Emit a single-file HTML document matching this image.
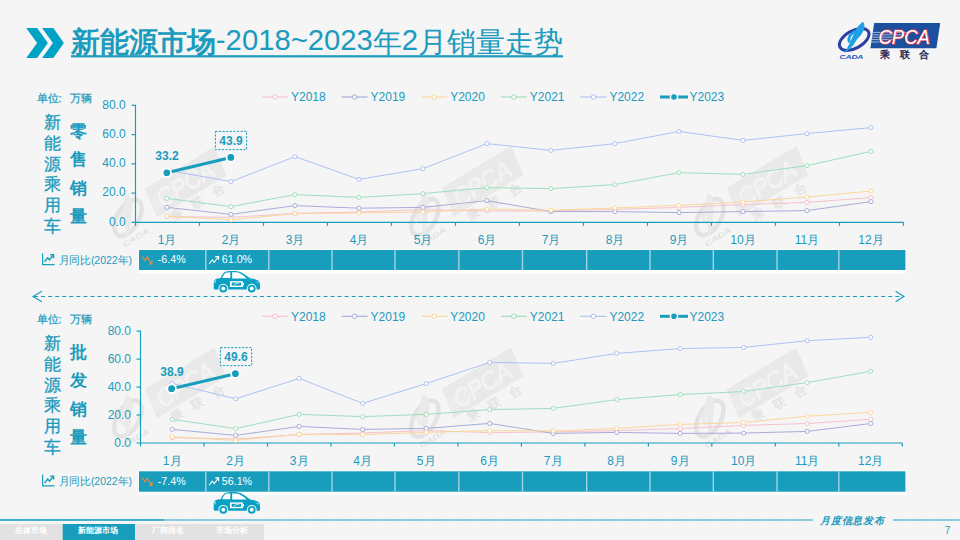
<!DOCTYPE html>
<html lang="zh"><head><meta charset="utf-8"><title>新能源市场</title>
<style>
html,body{margin:0;padding:0;}
body{width:960px;height:540px;overflow:hidden;background:#f5f5f5;font-family:"Liberation Sans",sans-serif;}
#bg{position:absolute;left:0;top:0;width:960px;height:540px;background:#f5f5f5;}
svg{position:absolute;left:0;top:0;}
text{font-family:"Liberation Sans",sans-serif;fill:#1b9bbd;}
.t12{font-size:12px;}
.t11{font-size:11px;stroke:#1b9bbd;stroke-width:0.25px;}
.t107{font-size:10.7px;}
.b12{font-size:12px;font-weight:bold;}
.w11{font-size:10.7px;fill:#fff;}
.v17{font-size:17.3px;stroke:#1b9bbd;stroke-width:0.3px;}
.vb17{font-size:17.3px;font-weight:bold;}
.tab{font-size:8px;font-weight:bold;fill:#fff;}
</style></head><body>
<div id="bg"></div>
<svg width="960" height="540" viewBox="0 0 960 540">
<defs>
<pattern id="bgp" width="3" height="3" patternUnits="userSpaceOnUse" shape-rendering="crispEdges">
<rect width="3" height="3" fill="#f5f5f5"/>
<rect x="0" y="0" width="1" height="1" fill="#f9f9f9"/><rect x="2" y="1" width="1" height="1" fill="#f9f9f9"/><rect x="1" y="2" width="1" height="1" fill="#f9f9f9"/>
<rect x="2" y="0" width="1" height="1" fill="#f1f1f1"/><rect x="1" y="1" width="1" height="1" fill="#f1f1f1"/><rect x="0" y="2" width="1" height="1" fill="#f1f1f1"/>
</pattern>
<symbol id="logoC" viewBox="0 0 104 38" overflow="visible">
<g transform="rotate(-29 17.2 17.6)"><ellipse cx="17.2" cy="17.6" rx="16.2" ry="8.8" fill="none" stroke="#2c3fa3" stroke-width="3"/></g>
<path d="M26 0C29.5 4 26.5 12 20 17.5C18 21.5 14 27.5 7.6 31.2L10.8 25C13.4 20.5 15 15.5 17 12C14 14 12.6 17 13.8 20L11.4 21.2C8.4 16 13 10 18.6 8C20.6 5 23.5 1.6 26 0Z" fill="#20a0e4"/>
<text x="2.4" y="36.8" font-size="6" font-weight="bold" font-style="italic" style="fill:#2a54b8" textLength="24" lengthAdjust="spacingAndGlyphs">CADA</text>
<path d="M37.2 1.2H103.2L99.4 26.4H33.4Z" fill="#1d4f9f"/>
<g stroke="#dfe8f6" stroke-width="0.9" opacity="0.75"><path d="M35.6 10.6H70"/><path d="M35.2 13H66"/><path d="M34.8 15.4H62"/><path d="M34.4 17.8H58"/><path d="M34 20.2H54"/></g>
<text x="41.4" y="22" font-size="20.4" font-style="italic" style="fill:#fff;stroke:#e0384a;stroke-width:1.5;paint-order:stroke" textLength="51.5" lengthAdjust="spacingAndGlyphs">CPCA</text>
<text x="43.2" y="36.4" font-size="10" font-weight="bold" style="fill:#1c2a5c" textLength="49" lengthAdjust="spacing">乘联合</text>
</symbol>
<symbol id="logoG" viewBox="0 0 104 38" overflow="visible">
<g transform="translate(-4.2,-3)">
<g transform="rotate(-29 17.2 17.6)"><ellipse cx="17.2" cy="17.6" rx="16.2" ry="8.8" fill="none" stroke="#e3e3e3" stroke-width="3.6"/></g>
<path d="M26 0C29.5 4 26.5 12 20 17.5C18 21.5 14 27.5 7.6 31.2L10.8 25C13.4 20.5 15 15.5 17 12C14 14 12.6 17 13.8 20L11.4 21.2C8.4 16 13 10 18.6 8C20.6 5 23.5 1.6 26 0Z" fill="#eaeaea"/>
<text x="2.4" y="36.8" font-size="6" font-weight="bold" font-style="italic" style="fill:#e2e2e2" textLength="24" lengthAdjust="spacingAndGlyphs">CADA</text>
</g>
<path d="M37.2 1.2H103.2L99.4 26.4H33.4Z" fill="#e9e9e9"/>
<g stroke="#f1f1f1" stroke-width="0.9"><path d="M35.6 10.6H68"/><path d="M35.2 13H64"/><path d="M34.8 15.4H60"/><path d="M34.4 17.8H56"/><path d="M34 20.2H52"/></g>
<text x="41.4" y="22" font-size="20.4" font-style="italic" style="fill:#f4f4f4;stroke:#eeeeee;stroke-width:1.2;paint-order:stroke" textLength="51.5" lengthAdjust="spacingAndGlyphs">CPCA</text>
<text x="43.2" y="36.4" font-size="10" font-weight="bold" style="fill:#e4e4e4" textLength="49" lengthAdjust="spacing">乘联合</text>
</symbol>
</defs>
<rect width="960" height="540" fill="url(#bgp)"/>
<!-- watermarks -->
<use href="#logoG" x="107.9" y="174.4" width="127.9" height="46.7" transform="rotate(-31 171.9 197.8)"/>
<use href="#logoG" x="404.8" y="173.7" width="127.9" height="46.7" transform="rotate(-31 468.8 197.1)"/>
<use href="#logoG" x="689.8" y="173.7" width="127.9" height="46.7" transform="rotate(-31 753.8 197.1)"/>
<use href="#logoG" x="107.9" y="375.2" width="127.9" height="46.7" transform="rotate(-31 171.9 398.6)"/>
<use href="#logoG" x="404.8" y="375.2" width="127.9" height="46.7" transform="rotate(-31 468.8 398.6)"/>
<use href="#logoG" x="689.8" y="375.2" width="127.9" height="46.7" transform="rotate(-31 753.8 398.6)"/>
<!-- header -->
<path d="M26.2 27.9H37.1L47.9 42.9L37.1 57.9H26.2L37.1 42.9Z" fill="#00a2c6"/>
<path d="M42.1 27.9H53.3L63.9 42.9L53.3 57.9H42.1L52.9 42.9Z" fill="#00a2c6"/>
<text x="71" y="50.4" font-size="29.3" textLength="492" lengthAdjust="spacing"><tspan font-weight="bold" dy="1.6">新能源市场</tspan><tspan dy="-1.6">-2018~2023</tspan><tspan dy="1.6">年</tspan><tspan dy="-1.6">2</tspan><tspan dy="1.6">月销量走势</tspan></text>
<rect x="71" y="55.2" width="492" height="2.2" fill="#1b9bbd"/>
<use href="#logoC" x="837" y="21.8" width="104" height="38"/>

<!-- top chart -->
<text x="36.5" y="101.6" class="t11">单位:</text><text x="70.2" y="101.6" class="t11">万辆</text>
<text x="52.4" y="128.0" text-anchor="middle" class="v17">新</text>
<text x="52.4" y="148.8" text-anchor="middle" class="v17">能</text>
<text x="52.4" y="169.6" text-anchor="middle" class="v17">源</text>
<text x="52.4" y="190.4" text-anchor="middle" class="v17">乘</text>
<text x="52.4" y="211.2" text-anchor="middle" class="v17">用</text>
<text x="52.4" y="232.0" text-anchor="middle" class="v17">车</text>
<text x="78.2" y="137.2" text-anchor="middle" class="vb17">零</text>
<text x="78.2" y="165.4" text-anchor="middle" class="vb17">售</text>
<text x="78.2" y="193.6" text-anchor="middle" class="vb17">销</text>
<text x="78.2" y="221.8" text-anchor="middle" class="vb17">量</text>
<path d="M262.0 97h26" stroke="#f6bfca" stroke-width="1.1"/>
<circle cx="275.0" cy="97" r="2.2" fill="#fff" stroke="#f6bfca" stroke-width="1"/>
<text x="291.0" y="101.3" class="t12">Y2018</text>
<path d="M341.6 97h26" stroke="#a3a8d8" stroke-width="1.1"/>
<circle cx="354.6" cy="97" r="2.2" fill="#fff" stroke="#a3a8d8" stroke-width="1"/>
<text x="370.6" y="101.3" class="t12">Y2019</text>
<path d="M421.2 97h26" stroke="#fbd596" stroke-width="1.1"/>
<circle cx="434.2" cy="97" r="2.2" fill="#fff" stroke="#fbd596" stroke-width="1"/>
<text x="450.2" y="101.3" class="t12">Y2020</text>
<path d="M500.8 97h26" stroke="#9bdcb9" stroke-width="1.1"/>
<circle cx="513.8" cy="97" r="2.2" fill="#fff" stroke="#9bdcb9" stroke-width="1"/>
<text x="529.8" y="101.3" class="t12">Y2021</text>
<path d="M580.4 97h26" stroke="#a9c0f2" stroke-width="1.1"/>
<circle cx="593.4" cy="97" r="2.2" fill="#fff" stroke="#a9c0f2" stroke-width="1"/>
<text x="609.4" y="101.3" class="t12">Y2022</text>
<path d="M660 97h28" stroke="#189dbd" stroke-width="3"/>
<circle cx="674" cy="97" r="3.6" fill="#189dbd" stroke="#f6f6f6" stroke-width="1.6"/>
<text x="689.5" y="101.3" class="t12">Y2023</text>
<text x="125.6" y="108.6" text-anchor="end" class="t12">80.0</text>
<text x="125.6" y="137.9" text-anchor="end" class="t12">60.0</text>
<text x="125.6" y="167.1" text-anchor="end" class="t12">40.0</text>
<text x="125.6" y="196.4" text-anchor="end" class="t12">20.0</text>
<text x="125.6" y="225.6" text-anchor="end" class="t12">0.0</text>
<path d="M135.5 104.8V225.8" stroke="#189dbd" stroke-width="1.15" fill="none"/>
<path d="M131.5 222.3H903.5" stroke="#189dbd" stroke-width="1.15" fill="none"/>
<path d="M131.5 105.3H135.5" stroke="#189dbd" stroke-width="1.2"/>
<path d="M131.5 134.6H135.5" stroke="#189dbd" stroke-width="1.2"/>
<path d="M131.5 163.8H135.5" stroke="#189dbd" stroke-width="1.2"/>
<path d="M131.5 193.1H135.5" stroke="#189dbd" stroke-width="1.2"/>
<path d="M199.5 222.3V225.8" stroke="#189dbd" stroke-width="1.2"/>
<path d="M263.5 222.3V225.8" stroke="#189dbd" stroke-width="1.2"/>
<path d="M327.5 222.3V225.8" stroke="#189dbd" stroke-width="1.2"/>
<path d="M391.5 222.3V225.8" stroke="#189dbd" stroke-width="1.2"/>
<path d="M455.5 222.3V225.8" stroke="#189dbd" stroke-width="1.2"/>
<path d="M519.5 222.3V225.8" stroke="#189dbd" stroke-width="1.2"/>
<path d="M583.5 222.3V225.8" stroke="#189dbd" stroke-width="1.2"/>
<path d="M647.5 222.3V225.8" stroke="#189dbd" stroke-width="1.2"/>
<path d="M711.5 222.3V225.8" stroke="#189dbd" stroke-width="1.2"/>
<path d="M775.5 222.3V225.8" stroke="#189dbd" stroke-width="1.2"/>
<path d="M839.5 222.3V225.8" stroke="#189dbd" stroke-width="1.2"/>
<path d="M903.5 222.3V225.8" stroke="#189dbd" stroke-width="1.2"/>
<text x="167.0" y="244" text-anchor="middle" class="t12">1月</text>
<text x="231.0" y="244" text-anchor="middle" class="t12">2月</text>
<text x="295.0" y="244" text-anchor="middle" class="t12">3月</text>
<text x="359.0" y="244" text-anchor="middle" class="t12">4月</text>
<text x="423.0" y="244" text-anchor="middle" class="t12">5月</text>
<text x="487.0" y="244" text-anchor="middle" class="t12">6月</text>
<text x="551.0" y="244" text-anchor="middle" class="t12">7月</text>
<text x="615.0" y="244" text-anchor="middle" class="t12">8月</text>
<text x="679.0" y="244" text-anchor="middle" class="t12">9月</text>
<text x="743.0" y="244" text-anchor="middle" class="t12">10月</text>
<text x="807.0" y="244" text-anchor="middle" class="t12">11月</text>
<text x="871.0" y="244" text-anchor="middle" class="t12">12月</text>
<polyline points="167.0,216.6 231.0,217.4 295.0,213.4 359.0,212.0 423.0,209.6 487.0,211.0 551.0,211.0 615.0,209.4 679.0,207.4 743.0,204.6 807.0,202.4 871.0,197.6" fill="none" stroke="#f6bfca" stroke-width="0.95"/>
<circle cx="167.0" cy="216.6" r="2.05" fill="#fff" stroke="#f6bfca" stroke-width="0.95"/>
<circle cx="231.0" cy="217.4" r="2.05" fill="#fff" stroke="#f6bfca" stroke-width="0.95"/>
<circle cx="295.0" cy="213.4" r="2.05" fill="#fff" stroke="#f6bfca" stroke-width="0.95"/>
<circle cx="359.0" cy="212.0" r="2.05" fill="#fff" stroke="#f6bfca" stroke-width="0.95"/>
<circle cx="423.0" cy="209.6" r="2.05" fill="#fff" stroke="#f6bfca" stroke-width="0.95"/>
<circle cx="487.0" cy="211.0" r="2.05" fill="#fff" stroke="#f6bfca" stroke-width="0.95"/>
<circle cx="551.0" cy="211.0" r="2.05" fill="#fff" stroke="#f6bfca" stroke-width="0.95"/>
<circle cx="615.0" cy="209.4" r="2.05" fill="#fff" stroke="#f6bfca" stroke-width="0.95"/>
<circle cx="679.0" cy="207.4" r="2.05" fill="#fff" stroke="#f6bfca" stroke-width="0.95"/>
<circle cx="743.0" cy="204.6" r="2.05" fill="#fff" stroke="#f6bfca" stroke-width="0.95"/>
<circle cx="807.0" cy="202.4" r="2.05" fill="#fff" stroke="#f6bfca" stroke-width="0.95"/>
<circle cx="871.0" cy="197.6" r="2.05" fill="#fff" stroke="#f6bfca" stroke-width="0.95"/>
<polyline points="167.0,207.4 231.0,214.4 295.0,205.6 359.0,208.2 423.0,207.4 487.0,200.6 551.0,211.6 615.0,211.6 679.0,212.6 743.0,211.6 807.0,210.6 871.0,201.6" fill="none" stroke="#a3a8d8" stroke-width="0.95"/>
<circle cx="167.0" cy="207.4" r="2.05" fill="#fff" stroke="#a3a8d8" stroke-width="0.95"/>
<circle cx="231.0" cy="214.4" r="2.05" fill="#fff" stroke="#a3a8d8" stroke-width="0.95"/>
<circle cx="295.0" cy="205.6" r="2.05" fill="#fff" stroke="#a3a8d8" stroke-width="0.95"/>
<circle cx="359.0" cy="208.2" r="2.05" fill="#fff" stroke="#a3a8d8" stroke-width="0.95"/>
<circle cx="423.0" cy="207.4" r="2.05" fill="#fff" stroke="#a3a8d8" stroke-width="0.95"/>
<circle cx="487.0" cy="200.6" r="2.05" fill="#fff" stroke="#a3a8d8" stroke-width="0.95"/>
<circle cx="551.0" cy="211.6" r="2.05" fill="#fff" stroke="#a3a8d8" stroke-width="0.95"/>
<circle cx="615.0" cy="211.6" r="2.05" fill="#fff" stroke="#a3a8d8" stroke-width="0.95"/>
<circle cx="679.0" cy="212.6" r="2.05" fill="#fff" stroke="#a3a8d8" stroke-width="0.95"/>
<circle cx="743.0" cy="211.6" r="2.05" fill="#fff" stroke="#a3a8d8" stroke-width="0.95"/>
<circle cx="807.0" cy="210.6" r="2.05" fill="#fff" stroke="#a3a8d8" stroke-width="0.95"/>
<circle cx="871.0" cy="201.6" r="2.05" fill="#fff" stroke="#a3a8d8" stroke-width="0.95"/>
<polyline points="167.0,216.2 231.0,219.8 295.0,213.6 359.0,213.0 423.0,212.0 487.0,209.2 551.0,210.2 615.0,208.0 679.0,205.4 743.0,202.0 807.0,197.0 871.0,191.0" fill="none" stroke="#fbd596" stroke-width="0.95"/>
<circle cx="167.0" cy="216.2" r="2.05" fill="#fff" stroke="#fbd596" stroke-width="0.95"/>
<circle cx="231.0" cy="219.8" r="2.05" fill="#fff" stroke="#fbd596" stroke-width="0.95"/>
<circle cx="295.0" cy="213.6" r="2.05" fill="#fff" stroke="#fbd596" stroke-width="0.95"/>
<circle cx="359.0" cy="213.0" r="2.05" fill="#fff" stroke="#fbd596" stroke-width="0.95"/>
<circle cx="423.0" cy="212.0" r="2.05" fill="#fff" stroke="#fbd596" stroke-width="0.95"/>
<circle cx="487.0" cy="209.2" r="2.05" fill="#fff" stroke="#fbd596" stroke-width="0.95"/>
<circle cx="551.0" cy="210.2" r="2.05" fill="#fff" stroke="#fbd596" stroke-width="0.95"/>
<circle cx="615.0" cy="208.0" r="2.05" fill="#fff" stroke="#fbd596" stroke-width="0.95"/>
<circle cx="679.0" cy="205.4" r="2.05" fill="#fff" stroke="#fbd596" stroke-width="0.95"/>
<circle cx="743.0" cy="202.0" r="2.05" fill="#fff" stroke="#fbd596" stroke-width="0.95"/>
<circle cx="807.0" cy="197.0" r="2.05" fill="#fff" stroke="#fbd596" stroke-width="0.95"/>
<circle cx="871.0" cy="191.0" r="2.05" fill="#fff" stroke="#fbd596" stroke-width="0.95"/>
<polyline points="167.0,198.4 231.0,206.6 295.0,194.6 359.0,197.4 423.0,193.6 487.0,187.6 551.0,188.6 615.0,184.6 679.0,172.6 743.0,174.4 807.0,165.6 871.0,151.4" fill="none" stroke="#9bdcb9" stroke-width="0.95"/>
<circle cx="167.0" cy="198.4" r="2.05" fill="#fff" stroke="#9bdcb9" stroke-width="0.95"/>
<circle cx="231.0" cy="206.6" r="2.05" fill="#fff" stroke="#9bdcb9" stroke-width="0.95"/>
<circle cx="295.0" cy="194.6" r="2.05" fill="#fff" stroke="#9bdcb9" stroke-width="0.95"/>
<circle cx="359.0" cy="197.4" r="2.05" fill="#fff" stroke="#9bdcb9" stroke-width="0.95"/>
<circle cx="423.0" cy="193.6" r="2.05" fill="#fff" stroke="#9bdcb9" stroke-width="0.95"/>
<circle cx="487.0" cy="187.6" r="2.05" fill="#fff" stroke="#9bdcb9" stroke-width="0.95"/>
<circle cx="551.0" cy="188.6" r="2.05" fill="#fff" stroke="#9bdcb9" stroke-width="0.95"/>
<circle cx="615.0" cy="184.6" r="2.05" fill="#fff" stroke="#9bdcb9" stroke-width="0.95"/>
<circle cx="679.0" cy="172.6" r="2.05" fill="#fff" stroke="#9bdcb9" stroke-width="0.95"/>
<circle cx="743.0" cy="174.4" r="2.05" fill="#fff" stroke="#9bdcb9" stroke-width="0.95"/>
<circle cx="807.0" cy="165.6" r="2.05" fill="#fff" stroke="#9bdcb9" stroke-width="0.95"/>
<circle cx="871.0" cy="151.4" r="2.05" fill="#fff" stroke="#9bdcb9" stroke-width="0.95"/>
<polyline points="167.0,170.2 231.0,181.6 295.0,156.6 359.0,179.4 423.0,168.6 487.0,143.6 551.0,150.4 615.0,143.6 679.0,131.4 743.0,140.4 807.0,133.6 871.0,127.6" fill="none" stroke="#a9c0f2" stroke-width="0.95"/>
<circle cx="167.0" cy="170.2" r="2.05" fill="#fff" stroke="#a9c0f2" stroke-width="0.95"/>
<circle cx="231.0" cy="181.6" r="2.05" fill="#fff" stroke="#a9c0f2" stroke-width="0.95"/>
<circle cx="295.0" cy="156.6" r="2.05" fill="#fff" stroke="#a9c0f2" stroke-width="0.95"/>
<circle cx="359.0" cy="179.4" r="2.05" fill="#fff" stroke="#a9c0f2" stroke-width="0.95"/>
<circle cx="423.0" cy="168.6" r="2.05" fill="#fff" stroke="#a9c0f2" stroke-width="0.95"/>
<circle cx="487.0" cy="143.6" r="2.05" fill="#fff" stroke="#a9c0f2" stroke-width="0.95"/>
<circle cx="551.0" cy="150.4" r="2.05" fill="#fff" stroke="#a9c0f2" stroke-width="0.95"/>
<circle cx="615.0" cy="143.6" r="2.05" fill="#fff" stroke="#a9c0f2" stroke-width="0.95"/>
<circle cx="679.0" cy="131.4" r="2.05" fill="#fff" stroke="#a9c0f2" stroke-width="0.95"/>
<circle cx="743.0" cy="140.4" r="2.05" fill="#fff" stroke="#a9c0f2" stroke-width="0.95"/>
<circle cx="807.0" cy="133.6" r="2.05" fill="#fff" stroke="#a9c0f2" stroke-width="0.95"/>
<circle cx="871.0" cy="127.6" r="2.05" fill="#fff" stroke="#a9c0f2" stroke-width="0.95"/>
<path d="M166.8 172.8L230.8 157.4" stroke="#189dbd" stroke-width="3.1" stroke-linecap="round"/>
<circle cx="166.8" cy="172.8" r="4.3" fill="#189dbd" stroke="#fff" stroke-width="1.8"/>
<circle cx="230.8" cy="157.4" r="4.3" fill="#189dbd" stroke="#fff" stroke-width="1.8"/>
<text x="167" y="160.4" text-anchor="middle" class="b12">33.2</text>
<rect x="215.4" y="131.4" width="31.19999999999999" height="18.19999999999999" fill="none" stroke="#189dbd" stroke-width="1" stroke-dasharray="2.2 1.4"/>
<text x="231.0" y="144.9" text-anchor="middle" class="b12">43.9</text>
<rect x="138" y="249.2" width="768" height="24.3" fill="#fff"/>
<rect x="139" y="250" width="766.4" height="20" fill="#189dbd"/>
<rect x="205.10000000000002" y="250" width="1.4" height="20" fill="#9fd5e4"/>
<rect x="268.1" y="250" width="1.4" height="20" fill="#9fd5e4"/>
<rect x="331.3" y="250" width="1.4" height="20" fill="#9fd5e4"/>
<rect x="394.3" y="250" width="1.4" height="20" fill="#9fd5e4"/>
<rect x="458.1" y="250" width="1.4" height="20" fill="#9fd5e4"/>
<rect x="521.8" y="250" width="1.4" height="20" fill="#9fd5e4"/>
<rect x="586.0" y="250" width="1.4" height="20" fill="#9fd5e4"/>
<rect x="649.3" y="250" width="1.4" height="20" fill="#9fd5e4"/>
<rect x="712.5999999999999" y="250" width="1.4" height="20" fill="#9fd5e4"/>
<rect x="776.3" y="250" width="1.4" height="20" fill="#9fd5e4"/>
<rect x="838.0999999999999" y="250" width="1.4" height="20" fill="#9fd5e4"/>
<g transform="translate(42,253.2)" fill="none" stroke="#189dbd"><path d="M0.6 0V11.4H12.6" stroke-width="1.2"/><path d="M2.6 8.6L5.6 4.6L7.6 6.6L11 2.2" stroke-width="1.5"/><path d="M8.2 1.6H11.6V5" stroke-width="1.4"/></g>
<text x="58.5" y="263.9" class="t107" textLength="73.5" lengthAdjust="spacingAndGlyphs">月同比(2022年)</text>
<g transform="translate(142.3,256.3)" fill="none" stroke="#f08a3c" stroke-width="1.15"><path d="M0 0.2L2.8 4.4L4.9 0.7L9 7.4"/><path d="M9.6 3.9V7.7H6.9"/></g>
<text x="157.8" y="263.0" class="w11">-6.4%</text>
<g transform="translate(209.2,256.2)" fill="none" stroke="#fff" stroke-width="1.1"><path d="M0 7.8L3 3.6L5 6.2L9 0.6"/><path d="M6 0.4H9.4V3.8"/></g>
<text x="221.8" y="263.0" class="w11">61.0%</text>
<g transform="translate(213.7,270.8)">
<path d="M1.2 18.8C0.2 18.6 0 17.6 0 16.4V12.2C0 9.6 1.4 8.2 4 7.6L7 7.2C8.6 3 10.6 0.6 13.6 0.4C17.4 0 21.6 0 25 0.6C28.6 1.4 32.6 4.6 36.4 7.4C40.4 8 44 9 45.4 10.8C46.4 12.6 46.5 15.4 46.3 17.4C46.2 18.4 45.6 18.8 44.6 18.8Z" fill="#08a0c3"/>
<path d="M8.4 7.2C9.6 4 11.2 1.8 13.6 1.6L16.6 1.5V7.2Z" fill="#fff"/>
<path d="M18.4 1.5H22.6C26 1.6 29.6 4.4 33 7.6H18.4Z" fill="#fff"/>
<circle cx="9.6" cy="17.8" r="4.9" fill="#f6f6f6"/><circle cx="9.6" cy="17.8" r="3.9" fill="#08a0c3"/><circle cx="9.6" cy="17.8" r="2" fill="#fff"/>
<circle cx="38" cy="17.8" r="4.9" fill="#f6f6f6"/><circle cx="38" cy="17.8" r="3.9" fill="#08a0c3"/><circle cx="38" cy="17.8" r="2" fill="#fff"/>
<rect x="16.2" y="10.4" width="13" height="5.8" fill="#fff"/><rect x="29.2" y="12" width="1" height="2.6" fill="#fff"/>
<rect x="18" y="11.8" width="9.4" height="3" fill="#08a0c3"/><path d="M20 14L22.4 12.6H24L25.6 12.4" stroke="#fff" stroke-width="0.7" fill="none"/>
<path d="M41.6 10.2L44.6 11.6L45 12.8Z" fill="#fff"/><path d="M0.8 10.4L2.4 9.2L1.2 13Z" fill="#fff"/>
</g>

<!-- dashed arrow -->
<path d="M34 296.5H903" stroke="#189dbd" stroke-width="1.1" stroke-dasharray="4 3.06" fill="none"/>
<path d="M41.9 291.3L33 296.5L41.9 301.7" stroke="#189dbd" stroke-width="1.1" fill="none"/>
<path d="M895.6 291.3L904 296.5L895.6 301.7" stroke="#189dbd" stroke-width="1.1" fill="none"/>

<!-- bottom chart -->
<text x="36.5" y="322.6" class="t11">单位:</text><text x="70.2" y="322.6" class="t11">万辆</text>
<text x="52.4" y="349.0" text-anchor="middle" class="v17">新</text>
<text x="52.4" y="369.8" text-anchor="middle" class="v17">能</text>
<text x="52.4" y="390.6" text-anchor="middle" class="v17">源</text>
<text x="52.4" y="411.4" text-anchor="middle" class="v17">乘</text>
<text x="52.4" y="432.2" text-anchor="middle" class="v17">用</text>
<text x="52.4" y="453.0" text-anchor="middle" class="v17">车</text>
<text x="78.2" y="358.2" text-anchor="middle" class="vb17">批</text>
<text x="78.2" y="386.4" text-anchor="middle" class="vb17">发</text>
<text x="78.2" y="414.6" text-anchor="middle" class="vb17">销</text>
<text x="78.2" y="442.8" text-anchor="middle" class="vb17">量</text>
<path d="M262.0 316.3h26" stroke="#f6bfca" stroke-width="1.1"/>
<circle cx="275.0" cy="316.3" r="2.2" fill="#fff" stroke="#f6bfca" stroke-width="1"/>
<text x="291.0" y="320.6" class="t12">Y2018</text>
<path d="M341.6 316.3h26" stroke="#a3a8d8" stroke-width="1.1"/>
<circle cx="354.6" cy="316.3" r="2.2" fill="#fff" stroke="#a3a8d8" stroke-width="1"/>
<text x="370.6" y="320.6" class="t12">Y2019</text>
<path d="M421.2 316.3h26" stroke="#fbd596" stroke-width="1.1"/>
<circle cx="434.2" cy="316.3" r="2.2" fill="#fff" stroke="#fbd596" stroke-width="1"/>
<text x="450.2" y="320.6" class="t12">Y2020</text>
<path d="M500.8 316.3h26" stroke="#9bdcb9" stroke-width="1.1"/>
<circle cx="513.8" cy="316.3" r="2.2" fill="#fff" stroke="#9bdcb9" stroke-width="1"/>
<text x="529.8" y="320.6" class="t12">Y2021</text>
<path d="M580.4 316.3h26" stroke="#a9c0f2" stroke-width="1.1"/>
<circle cx="593.4" cy="316.3" r="2.2" fill="#fff" stroke="#a9c0f2" stroke-width="1"/>
<text x="609.4" y="320.6" class="t12">Y2022</text>
<path d="M660 316.3h28" stroke="#189dbd" stroke-width="3"/>
<circle cx="674" cy="316.3" r="3.6" fill="#189dbd" stroke="#f6f6f6" stroke-width="1.6"/>
<text x="689.5" y="320.6" class="t12">Y2023</text>
<text x="131" y="335.0" text-anchor="end" class="t12">80.0</text>
<text x="131" y="363.0" text-anchor="end" class="t12">60.0</text>
<text x="131" y="390.9" text-anchor="end" class="t12">40.0</text>
<text x="131" y="418.9" text-anchor="end" class="t12">20.0</text>
<text x="131" y="446.9" text-anchor="end" class="t12">0.0</text>
<path d="M140.5 330.6V446.5" stroke="#189dbd" stroke-width="1.15" fill="none"/>
<path d="M136.5 443H902.3" stroke="#189dbd" stroke-width="1.15" fill="none"/>
<path d="M136.5 331.1H140.5" stroke="#189dbd" stroke-width="1.2"/>
<path d="M136.5 359.1H140.5" stroke="#189dbd" stroke-width="1.2"/>
<path d="M136.5 387.1H140.5" stroke="#189dbd" stroke-width="1.2"/>
<path d="M136.5 415.0H140.5" stroke="#189dbd" stroke-width="1.2"/>
<path d="M204.0 443V446.5" stroke="#189dbd" stroke-width="1.2"/>
<path d="M267.5 443V446.5" stroke="#189dbd" stroke-width="1.2"/>
<path d="M330.9 443V446.5" stroke="#189dbd" stroke-width="1.2"/>
<path d="M394.4 443V446.5" stroke="#189dbd" stroke-width="1.2"/>
<path d="M457.9 443V446.5" stroke="#189dbd" stroke-width="1.2"/>
<path d="M521.4 443V446.5" stroke="#189dbd" stroke-width="1.2"/>
<path d="M584.9 443V446.5" stroke="#189dbd" stroke-width="1.2"/>
<path d="M648.4 443V446.5" stroke="#189dbd" stroke-width="1.2"/>
<path d="M711.8 443V446.5" stroke="#189dbd" stroke-width="1.2"/>
<path d="M775.3 443V446.5" stroke="#189dbd" stroke-width="1.2"/>
<path d="M838.8 443V446.5" stroke="#189dbd" stroke-width="1.2"/>
<path d="M902.3 443V446.5" stroke="#189dbd" stroke-width="1.2"/>
<text x="172.2" y="465" text-anchor="middle" class="t12">1月</text>
<text x="235.7" y="465" text-anchor="middle" class="t12">2月</text>
<text x="299.2" y="465" text-anchor="middle" class="t12">3月</text>
<text x="362.7" y="465" text-anchor="middle" class="t12">4月</text>
<text x="426.2" y="465" text-anchor="middle" class="t12">5月</text>
<text x="489.7" y="465" text-anchor="middle" class="t12">6月</text>
<text x="553.2" y="465" text-anchor="middle" class="t12">7月</text>
<text x="616.7" y="465" text-anchor="middle" class="t12">8月</text>
<text x="680.2" y="465" text-anchor="middle" class="t12">9月</text>
<text x="743.7" y="465" text-anchor="middle" class="t12">10月</text>
<text x="807.2" y="465" text-anchor="middle" class="t12">11月</text>
<text x="870.7" y="465" text-anchor="middle" class="t12">12月</text>
<polyline points="172.2,437.6 235.7,439.0 299.2,434.6 362.7,433.0 426.2,430.6 489.7,432.6 553.2,432.0 616.7,430.6 680.2,428.6 743.7,425.4 807.2,423.5 870.7,419.4" fill="none" stroke="#f6bfca" stroke-width="0.95"/>
<circle cx="172.2" cy="437.6" r="2.05" fill="#fff" stroke="#f6bfca" stroke-width="0.95"/>
<circle cx="235.7" cy="439.0" r="2.05" fill="#fff" stroke="#f6bfca" stroke-width="0.95"/>
<circle cx="299.2" cy="434.6" r="2.05" fill="#fff" stroke="#f6bfca" stroke-width="0.95"/>
<circle cx="362.7" cy="433.0" r="2.05" fill="#fff" stroke="#f6bfca" stroke-width="0.95"/>
<circle cx="426.2" cy="430.6" r="2.05" fill="#fff" stroke="#f6bfca" stroke-width="0.95"/>
<circle cx="489.7" cy="432.6" r="2.05" fill="#fff" stroke="#f6bfca" stroke-width="0.95"/>
<circle cx="553.2" cy="432.0" r="2.05" fill="#fff" stroke="#f6bfca" stroke-width="0.95"/>
<circle cx="616.7" cy="430.6" r="2.05" fill="#fff" stroke="#f6bfca" stroke-width="0.95"/>
<circle cx="680.2" cy="428.6" r="2.05" fill="#fff" stroke="#f6bfca" stroke-width="0.95"/>
<circle cx="743.7" cy="425.4" r="2.05" fill="#fff" stroke="#f6bfca" stroke-width="0.95"/>
<circle cx="807.2" cy="423.5" r="2.05" fill="#fff" stroke="#f6bfca" stroke-width="0.95"/>
<circle cx="870.7" cy="419.4" r="2.05" fill="#fff" stroke="#f6bfca" stroke-width="0.95"/>
<polyline points="172.2,429.4 235.7,435.4 299.2,426.4 362.7,429.4 426.2,428.4 489.7,423.4 553.2,433.4 616.7,432.4 680.2,433.4 743.7,433.1 807.2,431.4 870.7,423.5" fill="none" stroke="#a3a8d8" stroke-width="0.95"/>
<circle cx="172.2" cy="429.4" r="2.05" fill="#fff" stroke="#a3a8d8" stroke-width="0.95"/>
<circle cx="235.7" cy="435.4" r="2.05" fill="#fff" stroke="#a3a8d8" stroke-width="0.95"/>
<circle cx="299.2" cy="426.4" r="2.05" fill="#fff" stroke="#a3a8d8" stroke-width="0.95"/>
<circle cx="362.7" cy="429.4" r="2.05" fill="#fff" stroke="#a3a8d8" stroke-width="0.95"/>
<circle cx="426.2" cy="428.4" r="2.05" fill="#fff" stroke="#a3a8d8" stroke-width="0.95"/>
<circle cx="489.7" cy="423.4" r="2.05" fill="#fff" stroke="#a3a8d8" stroke-width="0.95"/>
<circle cx="553.2" cy="433.4" r="2.05" fill="#fff" stroke="#a3a8d8" stroke-width="0.95"/>
<circle cx="616.7" cy="432.4" r="2.05" fill="#fff" stroke="#a3a8d8" stroke-width="0.95"/>
<circle cx="680.2" cy="433.4" r="2.05" fill="#fff" stroke="#a3a8d8" stroke-width="0.95"/>
<circle cx="743.7" cy="433.1" r="2.05" fill="#fff" stroke="#a3a8d8" stroke-width="0.95"/>
<circle cx="807.2" cy="431.4" r="2.05" fill="#fff" stroke="#a3a8d8" stroke-width="0.95"/>
<circle cx="870.7" cy="423.5" r="2.05" fill="#fff" stroke="#a3a8d8" stroke-width="0.95"/>
<polyline points="172.2,436.8 235.7,440.4 299.2,434.4 362.7,434.6 426.2,432.4 489.7,430.6 553.2,431.0 616.7,428.4 680.2,424.4 743.7,422.5 807.2,416.2 870.7,412.4" fill="none" stroke="#fbd596" stroke-width="0.95"/>
<circle cx="172.2" cy="436.8" r="2.05" fill="#fff" stroke="#fbd596" stroke-width="0.95"/>
<circle cx="235.7" cy="440.4" r="2.05" fill="#fff" stroke="#fbd596" stroke-width="0.95"/>
<circle cx="299.2" cy="434.4" r="2.05" fill="#fff" stroke="#fbd596" stroke-width="0.95"/>
<circle cx="362.7" cy="434.6" r="2.05" fill="#fff" stroke="#fbd596" stroke-width="0.95"/>
<circle cx="426.2" cy="432.4" r="2.05" fill="#fff" stroke="#fbd596" stroke-width="0.95"/>
<circle cx="489.7" cy="430.6" r="2.05" fill="#fff" stroke="#fbd596" stroke-width="0.95"/>
<circle cx="553.2" cy="431.0" r="2.05" fill="#fff" stroke="#fbd596" stroke-width="0.95"/>
<circle cx="616.7" cy="428.4" r="2.05" fill="#fff" stroke="#fbd596" stroke-width="0.95"/>
<circle cx="680.2" cy="424.4" r="2.05" fill="#fff" stroke="#fbd596" stroke-width="0.95"/>
<circle cx="743.7" cy="422.5" r="2.05" fill="#fff" stroke="#fbd596" stroke-width="0.95"/>
<circle cx="807.2" cy="416.2" r="2.05" fill="#fff" stroke="#fbd596" stroke-width="0.95"/>
<circle cx="870.7" cy="412.4" r="2.05" fill="#fff" stroke="#fbd596" stroke-width="0.95"/>
<polyline points="172.2,419.4 235.7,428.6 299.2,414.4 362.7,416.6 426.2,414.4 489.7,409.6 553.2,408.4 616.7,399.6 680.2,394.6 743.7,391.5 807.2,382.6 870.7,371.3" fill="none" stroke="#9bdcb9" stroke-width="0.95"/>
<circle cx="172.2" cy="419.4" r="2.05" fill="#fff" stroke="#9bdcb9" stroke-width="0.95"/>
<circle cx="235.7" cy="428.6" r="2.05" fill="#fff" stroke="#9bdcb9" stroke-width="0.95"/>
<circle cx="299.2" cy="414.4" r="2.05" fill="#fff" stroke="#9bdcb9" stroke-width="0.95"/>
<circle cx="362.7" cy="416.6" r="2.05" fill="#fff" stroke="#9bdcb9" stroke-width="0.95"/>
<circle cx="426.2" cy="414.4" r="2.05" fill="#fff" stroke="#9bdcb9" stroke-width="0.95"/>
<circle cx="489.7" cy="409.6" r="2.05" fill="#fff" stroke="#9bdcb9" stroke-width="0.95"/>
<circle cx="553.2" cy="408.4" r="2.05" fill="#fff" stroke="#9bdcb9" stroke-width="0.95"/>
<circle cx="616.7" cy="399.6" r="2.05" fill="#fff" stroke="#9bdcb9" stroke-width="0.95"/>
<circle cx="680.2" cy="394.6" r="2.05" fill="#fff" stroke="#9bdcb9" stroke-width="0.95"/>
<circle cx="743.7" cy="391.5" r="2.05" fill="#fff" stroke="#9bdcb9" stroke-width="0.95"/>
<circle cx="807.2" cy="382.6" r="2.05" fill="#fff" stroke="#9bdcb9" stroke-width="0.95"/>
<circle cx="870.7" cy="371.3" r="2.05" fill="#fff" stroke="#9bdcb9" stroke-width="0.95"/>
<polyline points="172.2,383.4 235.7,398.8 299.2,378.4 362.7,403.4 426.2,383.6 489.7,362.4 553.2,363.4 616.7,353.4 680.2,348.6 743.7,347.4 807.2,340.7 870.7,337.3" fill="none" stroke="#a9c0f2" stroke-width="0.95"/>
<circle cx="172.2" cy="383.4" r="2.05" fill="#fff" stroke="#a9c0f2" stroke-width="0.95"/>
<circle cx="235.7" cy="398.8" r="2.05" fill="#fff" stroke="#a9c0f2" stroke-width="0.95"/>
<circle cx="299.2" cy="378.4" r="2.05" fill="#fff" stroke="#a9c0f2" stroke-width="0.95"/>
<circle cx="362.7" cy="403.4" r="2.05" fill="#fff" stroke="#a9c0f2" stroke-width="0.95"/>
<circle cx="426.2" cy="383.6" r="2.05" fill="#fff" stroke="#a9c0f2" stroke-width="0.95"/>
<circle cx="489.7" cy="362.4" r="2.05" fill="#fff" stroke="#a9c0f2" stroke-width="0.95"/>
<circle cx="553.2" cy="363.4" r="2.05" fill="#fff" stroke="#a9c0f2" stroke-width="0.95"/>
<circle cx="616.7" cy="353.4" r="2.05" fill="#fff" stroke="#a9c0f2" stroke-width="0.95"/>
<circle cx="680.2" cy="348.6" r="2.05" fill="#fff" stroke="#a9c0f2" stroke-width="0.95"/>
<circle cx="743.7" cy="347.4" r="2.05" fill="#fff" stroke="#a9c0f2" stroke-width="0.95"/>
<circle cx="807.2" cy="340.7" r="2.05" fill="#fff" stroke="#a9c0f2" stroke-width="0.95"/>
<circle cx="870.7" cy="337.3" r="2.05" fill="#fff" stroke="#a9c0f2" stroke-width="0.95"/>
<path d="M171.6 388.7L235.4 373.7" stroke="#189dbd" stroke-width="3.1" stroke-linecap="round"/>
<circle cx="171.6" cy="388.7" r="4.3" fill="#189dbd" stroke="#fff" stroke-width="1.8"/>
<circle cx="235.4" cy="373.7" r="4.3" fill="#189dbd" stroke="#fff" stroke-width="1.8"/>
<text x="172" y="376.4" text-anchor="middle" class="b12">38.9</text>
<rect x="220.4" y="347.6" width="31.19999999999999" height="18.0" fill="none" stroke="#189dbd" stroke-width="1" stroke-dasharray="2.2 1.4"/>
<text x="236.0" y="361.0" text-anchor="middle" class="b12">49.6</text>
<rect x="138" y="470.5" width="768" height="24.3" fill="#fff"/>
<rect x="139" y="471.3" width="766.4" height="20.4" fill="#189dbd"/>
<rect x="205.10000000000002" y="471.3" width="1.4" height="20.4" fill="#9fd5e4"/>
<rect x="268.1" y="471.3" width="1.4" height="20.4" fill="#9fd5e4"/>
<rect x="331.3" y="471.3" width="1.4" height="20.4" fill="#9fd5e4"/>
<rect x="394.3" y="471.3" width="1.4" height="20.4" fill="#9fd5e4"/>
<rect x="458.1" y="471.3" width="1.4" height="20.4" fill="#9fd5e4"/>
<rect x="521.8" y="471.3" width="1.4" height="20.4" fill="#9fd5e4"/>
<rect x="586.0" y="471.3" width="1.4" height="20.4" fill="#9fd5e4"/>
<rect x="649.3" y="471.3" width="1.4" height="20.4" fill="#9fd5e4"/>
<rect x="712.5999999999999" y="471.3" width="1.4" height="20.4" fill="#9fd5e4"/>
<rect x="776.3" y="471.3" width="1.4" height="20.4" fill="#9fd5e4"/>
<rect x="838.0999999999999" y="471.3" width="1.4" height="20.4" fill="#9fd5e4"/>
<g transform="translate(42,474.5)" fill="none" stroke="#189dbd"><path d="M0.6 0V11.4H12.6" stroke-width="1.2"/><path d="M2.6 8.6L5.6 4.6L7.6 6.6L11 2.2" stroke-width="1.5"/><path d="M8.2 1.6H11.6V5" stroke-width="1.4"/></g>
<text x="58.5" y="485.2" class="t107" textLength="73.5" lengthAdjust="spacingAndGlyphs">月同比(2022年)</text>
<g transform="translate(142.3,477.6)" fill="none" stroke="#f08a3c" stroke-width="1.15"><path d="M0 0.2L2.8 4.4L4.9 0.7L9 7.4"/><path d="M9.6 3.9V7.7H6.9"/></g>
<text x="157.8" y="485.2" class="w11">-7.4%</text>
<g transform="translate(209.2,477.5)" fill="none" stroke="#fff" stroke-width="1.1"><path d="M0 7.8L3 3.6L5 6.2L9 0.6"/><path d="M6 0.4H9.4V3.8"/></g>
<text x="221.8" y="485.2" class="w11">56.1%</text>
<g transform="translate(213.7,492)">
<path d="M1.2 18.8C0.2 18.6 0 17.6 0 16.4V12.2C0 9.6 1.4 8.2 4 7.6L7 7.2C8.6 3 10.6 0.6 13.6 0.4C17.4 0 21.6 0 25 0.6C28.6 1.4 32.6 4.6 36.4 7.4C40.4 8 44 9 45.4 10.8C46.4 12.6 46.5 15.4 46.3 17.4C46.2 18.4 45.6 18.8 44.6 18.8Z" fill="#08a0c3"/>
<path d="M8.4 7.2C9.6 4 11.2 1.8 13.6 1.6L16.6 1.5V7.2Z" fill="#fff"/>
<path d="M18.4 1.5H22.6C26 1.6 29.6 4.4 33 7.6H18.4Z" fill="#fff"/>
<circle cx="9.6" cy="17.8" r="4.9" fill="#f6f6f6"/><circle cx="9.6" cy="17.8" r="3.9" fill="#08a0c3"/><circle cx="9.6" cy="17.8" r="2" fill="#fff"/>
<circle cx="38" cy="17.8" r="4.9" fill="#f6f6f6"/><circle cx="38" cy="17.8" r="3.9" fill="#08a0c3"/><circle cx="38" cy="17.8" r="2" fill="#fff"/>
<rect x="16.2" y="10.4" width="13" height="5.8" fill="#fff"/><rect x="29.2" y="12" width="1" height="2.6" fill="#fff"/>
<rect x="18" y="11.8" width="9.4" height="3" fill="#08a0c3"/><path d="M20 14L22.4 12.6H24L25.6 12.4" stroke="#fff" stroke-width="0.7" fill="none"/>
<path d="M41.6 10.2L44.6 11.6L45 12.8Z" fill="#fff"/><path d="M0.8 10.4L2.4 9.2L1.2 13Z" fill="#fff"/>
</g>

<!-- footer -->
<rect x="0" y="519" width="164" height="1.9" fill="#3aadca"/>
<rect x="0" y="519.4" width="813" height="1.2" fill="#45b2ce"/>
<rect x="893" y="519.4" width="67" height="1.2" fill="#45b2ce"/>
<text x="852" y="523.6" text-anchor="middle" font-size="10" font-style="italic" font-weight="bold" font-family="'Liberation Serif',serif" textLength="64" lengthAdjust="spacing">月度信息发布</text>
<text x="947.5" y="533.6" text-anchor="middle" font-size="10">7</text>
<rect x="0" y="524" width="264" height="16" fill="#e2e2e2"/>
<rect x="62.7" y="524" width="72.3" height="16" fill="#189dbd"/>
<text x="30.6" y="533.2" text-anchor="middle" class="tab">总体市场</text>
<text x="98" y="533.2" text-anchor="middle" class="tab">新能源市场</text>
<text x="167.6" y="533.2" text-anchor="middle" class="tab">厂商排名</text>
<text x="232.4" y="533.2" text-anchor="middle" class="tab">市场分析</text>
</svg>
</body></html>
